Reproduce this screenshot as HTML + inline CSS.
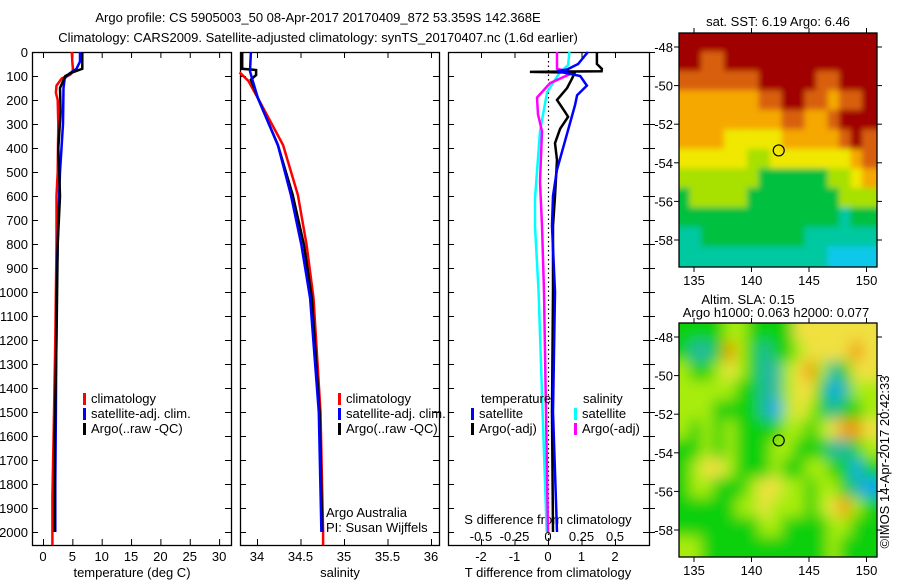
<!DOCTYPE html>
<html><head><meta charset="utf-8"><style>
body{margin:0;background:#fff;}
svg text{font-family:"Liberation Sans",sans-serif;font-size:13px;fill:#000;}
</style></head><body>
<svg id="c" width="900" height="580" viewBox="0 0 900 580" xmlns="http://www.w3.org/2000/svg">
<defs>
<filter id="bl1" x="-5%" y="-5%" width="110%" height="110%"><feGaussianBlur stdDeviation="3"/></filter>
<filter id="bl2" x="-5%" y="-5%" width="110%" height="110%"><feGaussianBlur stdDeviation="7"/></filter>
<clipPath id="cm1"><rect x="679" y="33" width="198" height="234"/></clipPath>
<clipPath id="cm2"><rect x="679" y="323" width="198" height="234"/></clipPath>
</defs>
<text x="318" y="22" text-anchor="middle" font-size="14">Argo profile: CS 5905003_50 08-Apr-2017 20170409_872 53.359S 142.368E</text>
<text x="318" y="42" text-anchor="middle" font-size="14">Climatology: CARS2009. Satellite-adjusted climatology: synTS_20170407.nc (1.6d earlier)</text>
<g id="g"></g>
</svg>
<script>
// ---------- data ----------
const depthTicks=[0,100,200,300,400,500,600,700,800,900,1000,1100,1200,1300,1400,1500,1600,1700,1800,1900,2000];
const tempTicks=[0,5,10,15,20,25,30];
const salTicks=[34,34.5,35,35.5,36];
const tdiffTicks=[-2,-1,0,1,2];
const sdiffTicks=[-0.5,-0.25,0,0.25,0.5];
const sdiffTickLabels=["-0.5","-0.25","0","0.25","0.5"];
// temperature profiles [depth, degC]
const tempClimDepth=[85,95,110,140,170,200,300,500,600,800,1200,1600,1850,2054];
const tempClim=[5.0,4.6,3.2,2.3,2.2,2.5,2.6,2.5,2.3,2.3,2.1,1.8,1.6,1.6];
const tempClimTopDepth=[0,40,70,85];
const tempClimTop=[4.9,5.0,5.1,5.0];
const tempSatDepth=[0,40,70,90,110,150,300,500,700,1000,1500,1800,2000];
const tempSat=[6.3,6.3,5.7,4.5,3.7,3.5,3.4,2.9,2.6,2.3,2.2,2.1,2.1];
const tempArgoDepth=[0,70,85,100,150,250,400,600,800,1200,1600,2000];
const tempArgo=[6.7,6.7,5.0,3.8,2.9,3.0,2.6,2.9,2.5,2.3,2.0,2.0];
// salinity profiles
const salClimDepth=[85,120,192,388,596,804,1025,1500,2000,2054];
const salClim=[33.8,33.9,34.01,34.30,34.47,34.57,34.65,34.73,34.76,34.76];
const salSatDepth=[0,80,120,192,388,596,804,1025,1500,2000];
const salSat=[33.93,33.92,33.95,34.01,34.24,34.39,34.51,34.61,34.71,34.74];
const salArgoDepth=[0,70,75,96,115,192,388,596,804,1025,1500,2000];
const salArgo=[33.83,33.83,33.99,33.99,33.93,34.01,34.24,34.41,34.54,34.63,34.72,34.75];
// differences
const tdSatDepth=[0,50,73,80,100,140,180,220,340,490,600,725,1000,1500,2000];
const tdSat=[1.19,0.90,0.57,0.27,0.96,1.16,0.87,0.81,0.57,0.27,0.15,0.12,0.21,0.15,0.27];
const tdArgoDepth=[0,50,70,80,83,86,110,150,200,250,270,320,380,450,600,725,1000,1500,2000];
const tdArgo=[1.46,1.46,1.61,1.6,-0.54,0.8,0.72,0.57,0.27,0.51,0.60,0.36,0.21,0.27,0.21,0.15,0.15,0.12,0.15];
const sdSatDepth=[0,55,83,167,330,610,725,1000,1500,2000];
const sdSat=[0.16,0.15,0.09,-0.007,-0.06,-0.097,-0.097,-0.07,-0.04,-0.01];
const sdArgoDepth=[0,70,85,130,190,260,330,540,725,1000,1500,2000];
const sdArgo=[0.067,0.067,0.19,0.015,-0.082,-0.075,-0.045,-0.06,-0.045,-0.03,-0.015,0.0];
// maps (colour class per 1-degree cell, rows north->south)
const mapLonTicks=[135,140,145,150];
const mapLatTicks=[-48,-50,-52,-54,-56,-58];
const sstGrid=[
"77777777777777777","77667777777777777","66666667777766777","55555556677665667",
"55555555566556777","55554444455555676","44444433444444456","33333332222223345",
"23333322222222333","22222222222222122","11222222222111111","11111111111110000"];
const slaGrid=[
"22223322224444444","21125321223444454","32234321134531244","33333221134420133",
"33322221034321223","32323222233234554","22323222332221123","23443222322332202",
"23322234433233210","22222334333234532","22222223322223322","33222222222223222"];
const argoLon=[142.368];
const argoLat=[-53.359];
</script>
<script>
const NS="http://www.w3.org/2000/svg";
const G=document.getElementById('g');
function mk(t,a,p){const e=document.createElementNS(NS,t);for(const k in a)e.setAttribute(k,a[k]);(p||G).appendChild(e);return e;}
const TOP=52,BOT=545;
const yD=d=>TOP+d*0.24;
const xT=v=>43+v*5.87;
const xS=v=>257+(v-34)*87;
const xTD=v=>548+v*33.5;
const xSD=v=>548+v*134;
function line(ds,vs,xf,col,w,name){
  const pts=ds.map((d,i)=>xf(vs[i]).toFixed(1)+','+yD(d).toFixed(1)).join(' ');
  const e=mk('polyline',{points:pts,fill:'none',stroke:col,'stroke-width':w||2.5,'stroke-linejoin':'miter'});
  
  
}
function txt(x,y,s,anchor,name,extra){const e=mk('text',Object.assign({x:x,y:y,'text-anchor':anchor||'start'},extra||{}));e.textContent=s;
  
  return e;}
function frame(x0,x1,name){const r=mk('rect',{x:x0+0.5,y:TOP+0.5,width:x1-x0,height:BOT-TOP,fill:'none',stroke:'#000','stroke-width':1.3});
  
  
  depthTicks.forEach(d=>{const y=yD(d)+0.5;mk('line',{x1:x0,x2:x0+6,y1:y,y2:y,stroke:'#000'});mk('line',{x1:x1-6,x2:x1,y1:y,y2:y,stroke:'#000'});});
}
frame(32,231,'temperature-panel');frame(240,439,'salinity-panel');frame(448,649,'difference-panel');
depthTicks.forEach(d=>{txt(28,yD(d)+5,String(d),'end','depth-tick-label');
  mk('line',{x1:649,x2:655,y1:yD(d)+0.5,y2:yD(d)+0.5,stroke:'#000'});});
function xticks(vals,xf,labels,ly,name){vals.forEach((v,i)=>{const x=xf(v)+0.5;
  mk('line',{x1:x,x2:x,y1:TOP,y2:TOP+6,stroke:'#000'});mk('line',{x1:x,x2:x,y1:BOT-6,y2:BOT,stroke:'#000'});
  if(labels)txt(xf(v),ly,labels[i],'middle',name);});}
xticks(tempTicks,xT,tempTicks.map(String),561,'temperature-tick-label');
xticks(salTicks,xS,salTicks.map(String),561,'salinity-tick-label');
xticks(tdiffTicks,xTD,tdiffTicks.map(String),561,'tdiff-tick-label');
sdiffTicks.forEach((v,i)=>txt(xSD(v),541,sdiffTickLabels[i],'middle','sdiff-tick-label'));
txt(132,577,'temperature (deg C)','middle','temperature-axis-title');
txt(340,577,'salinity','middle','salinity-axis-title');
txt(548,577,'T difference from climatology','middle','tdiff-axis-title');
txt(548,524,'S difference from climatology','middle','sdiff-axis-title');
mk('line',{x1:548.5,x2:548.5,y1:TOP,y2:BOT,stroke:'#000','stroke-dasharray':'1.5,3','stroke-width':1.2});
line(tempClimTopDepth,tempClimTop,xT,'#f00',2.5,'temp-climatology-top');
line(tempClimDepth,tempClim,xT,'#f00',2.5,'temp-climatology-line');
line(tempSatDepth,tempSat,xT,'#00f',2.5,'temp-satellite-line');
line(tempArgoDepth,tempArgo,xT,'#000',2.5,'temp-argo-line');
line(salClimDepth,salClim,xS,'#f00',2.5,'sal-climatology-line');
line(salArgoDepth,salArgo,xS,'#000',2.5,'sal-argo-line');
line(salSatDepth,salSat,xS,'#00f',2.5,'sal-satellite-line');
line(sdSatDepth,sdSat,xSD,'#0ff',2.5,'sdiff-satellite-line');
line(sdArgoDepth,sdArgo,xSD,'#f0f',2.5,'sdiff-argo-line');
line(tdArgoDepth,tdArgo,xTD,'#000',2.5,'tdiff-argo-line');
line(tdSatDepth,tdSat,xTD,'#00f',2.5,'tdiff-satellite-line');
function leg(x,y,col,s,name){mk('rect',{x:x,y:y-10,width:3,height:12,fill:col});txt(x+8,y,s,'start',name);}
leg(83,403,'#f00','climatology','legend-climatology');leg(83,418,'#00f','satellite-adj. clim.','legend-satellite');leg(83,433,'#000','Argo(..raw -QC)','legend-argo');
leg(338,403,'#f00','climatology','legend-climatology-2');leg(338,418,'#00f','satellite-adj. clim.','legend-satellite-2');leg(338,433,'#000','Argo(..raw -QC)','legend-argo-2');
txt(481,403,'temperature','start','legend-temperature-header');txt(583,403,'salinity','start','legend-salinity-header');
leg(471,418,'#00f','satellite','legend-t-satellite');leg(471,433,'#000','Argo(-adj)','legend-t-argo');
leg(574,418,'#0ff','satellite','legend-s-satellite');leg(574,433,'#f0f','Argo(-adj)','legend-s-argo');
txt(326,517,'Argo Australia','start','credit-argo-australia');
txt(326,532,'PI: Susan Wijffels','start','credit-pi');
const sstCols=['#10c8e8','#00c8a0','#00c040','#a8e000','#f0e800','#f5a800','#d86010','#a00000'];
const slaCols=['#10a8f0','#20b8a0','#10d010','#a8ec10','#f0e040','#f09800'];
function map(top,grid,cols,clip,filt,name,xlabY){
  const lx=lon=>682.5+(lon-134)*11.5, ly=lat=>top+14+(-48-lat)*19.3;
  const g=mk('g',{'clip-path':'url(#'+clip+')'});
  
  
  mk('rect',{x:679,y:top,width:198,height:234,fill:cols[2]},g);
  const inner=mk('g',{filter:'url(#'+filt+')'},g);
  grid.forEach((row,r)=>{for(let c=0;c<row.length;c++){const lon=133.7+c,lat=-47.27-r*1.01;
    const x0=lx(lon)-1,y0=ly(lat)-1,w=13.5,h=21.5;
    // extend edge cells outward so blur doesn't fade at frame
    const ex=c===0?-12:0,ey=r===0?-12:0,ew=(c===row.length-1?12:0)-ex,eh=(r===grid.length-1?12:0)-ey;
    const cell=mk('rect',{x:x0+ex,y:y0+ey,width:w+ew,height:h+eh,fill:cols[+row[c]]},inner);
    
    }});
  mk('rect',{x:679,y:top,width:198,height:234,fill:'none',stroke:'#000','stroke-width':1.3});
  mapLonTicks.forEach(v=>{mk('line',{x1:lx(v),x2:lx(v),y1:top-5,y2:top,stroke:'#000'});mk('line',{x1:lx(v),x2:lx(v),y1:top+234,y2:top+239,stroke:'#000'});txt(lx(v),xlabY,String(v),'middle','map-lon-label');});
  mapLatTicks.forEach(v=>{mk('line',{x1:674,x2:679,y1:ly(v),y2:ly(v),stroke:'#000'});mk('line',{x1:877,x2:882,y1:ly(v),y2:ly(v),stroke:'#000'});txt(673,ly(v)+5,String(v),'end','map-lat-label');});
  argoLon.forEach((lo,i)=>{const c=mk('circle',{cx:lx(lo),cy:ly(argoLat[i]),r:5.5,fill:'none',stroke:'#000','stroke-width':1.2});
    
    });
}
map(33,sstGrid,sstCols,'cm1','bl1','sst-map',285);
map(323,slaGrid,slaCols,'cm2','bl2','sla-map',575);
txt(778,26,'sat. SST: 6.19 Argo: 6.46','middle','sst-map-title',{'font-size':12});
txt(748,304,'Altim. SLA: 0.15','middle','sla-map-title',{'font-size':12});
txt(776,317,'Argo h1000: 0.063 h2000: 0.077','middle','sla-argo-heights',{'font-size':12});
txt(0,0,'©IMOS 14-Apr-2017 20:42:33','middle','copyright-stamp',{transform:'translate(889,462) rotate(-90)','font-size':12});
</script>
</body></html>
